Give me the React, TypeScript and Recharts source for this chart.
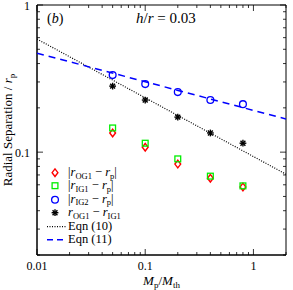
import { ScatterChart, Scatter, XAxis, YAxis, ReferenceArea, Legend, Label } from 'recharts';

// planet-to-planet mass ratio (Mp/Mth) sampled in the runs
const massRatio = [0.05, 0.1, 0.2, 0.4, 0.8];

// radial separations in units of r_p
const og1Sep = [0.135, 0.108, 0.083, 0.0665, 0.058];
const ig1Sep = [0.146, 0.115, 0.09, 0.0687, 0.059];
const ig2Sep = [0.334, 0.29, 0.256, 0.226, 0.212];
const og1Ig1Sep = [0.281, 0.226, 0.173, 0.135, 0.115];

// analytic fits (straight lines in log-log)
const eqn10X = [0.01, 2];
const eqn10Y = [0.587, 0.0708];
const eqn11X = [0.01, 2];
const eqn11Y = [0.471, 0.168];

const xTicks = [0.01, 0.02, 0.03, 0.04, 0.05, 0.06, 0.07, 0.08, 0.09, 0.1, 0.2, 0.3, 0.4, 0.5, 0.6, 0.7, 0.8, 0.9, 1, 2];
const yTicks = [0.02, 0.03, 0.04, 0.05, 0.06, 0.07, 0.08, 0.09, 0.1, 0.2, 0.3, 0.4, 0.5, 0.6, 0.7, 0.8, 0.9, 1];
const xLabelled = [0.01, 0.1, 1];
const yLabelled = [0.1, 1];

const W = 293;
const H = 290;
const M = { top: 5, right: 7, bottom: 0, left: 0 };
const Y_AXIS_W = 37;
const X_AXIS_H = 35;
const PLOT_W = W - M.left - M.right - Y_AXIS_W;
const PLOT_H = H - M.top - M.bottom - X_AXIS_H;
const FONT = '"Liberation Serif", "DejaVu Serif", serif';

const zip = (xs: number[], ys: number[]) => xs.map((x, i) => ({ x, y: ys[i] }));

const isMajor = (v: number) => Math.abs(Math.log10(v) - Math.round(Math.log10(v))) < 1e-6;

const XTick = (props: any) => {
  const { x, y, payload } = props;
  const v = payload.value;
  const len = isMajor(v) ? 6 : 3;
  return (
    <g>
      <line x1={x} y1={y} x2={x} y2={y - len} stroke="#000" strokeWidth={0.8} />
      <line x1={x} y1={y - PLOT_H} x2={x} y2={y - PLOT_H + len} stroke="#000" strokeWidth={0.8} />
      {xLabelled.includes(v) && (
        <text x={x} y={y + 15} textAnchor="middle" fontSize={12} fontFamily={FONT} fill="#000">
          {v}
        </text>
      )}
    </g>
  );
};

const YTick = (props: any) => {
  const { x, y, payload } = props;
  const v = payload.value;
  const len = isMajor(v) ? 6 : 3;
  return (
    <g>
      <line x1={x} y1={y} x2={x + len} y2={y} stroke="#000" strokeWidth={0.8} />
      <line x1={x + PLOT_W} y1={y} x2={x + PLOT_W - len} y2={y} stroke="#000" strokeWidth={0.8} />
      {yLabelled.includes(v) && (
        <text x={x - 7} y={y + 4.5} textAnchor="end" fontSize={12} fontFamily={FONT} fill="#000">
          {v}
        </text>
      )}
    </g>
  );
};

const Diamond = ({ cx, cy }: any) => (
  <path d={`M${cx},${cy - 3.8} L${cx + 2.9},${cy} L${cx},${cy + 3.8} L${cx - 2.9},${cy} Z`} fill="none" stroke="#ff0000" strokeWidth={1.4} />
);
const Square = ({ cx, cy }: any) => (
  <rect x={cx - 2.9} y={cy - 2.9} width={5.8} height={5.8} fill="none" stroke="#00ee00" strokeWidth={1.3} />
);
const Circle = ({ cx, cy }: any) => <circle cx={cx} cy={cy} r={3.4} fill="none" stroke="#0000ff" strokeWidth={1.3} />;
const Star = ({ cx, cy }: any) => {
  const r = 3.4;
  const d = r * 0.72;
  return (
    <g stroke="#000" strokeWidth={1.4}>
      <line x1={cx - r} y1={cy} x2={cx + r} y2={cy} />
      <line x1={cx} y1={cy - r} x2={cx} y2={cy + r} />
      <line x1={cx - d} y1={cy - d} x2={cx + d} y2={cy + d} />
      <line x1={cx - d} y1={cy + d} x2={cx + d} y2={cy - d} />
    </g>
  );
};
const NoDot = () => <g />;

const sub = (s: string) => (
  <span style={{ fontSize: 8.5, fontStyle: 'normal', position: 'relative', top: 2.5, lineHeight: 1 }}>{s}</span>
);
const r = <i>r</i>;

const ROW_H = 13.4;
const ICON_CY = ROW_H / 2;

const legendRows = [
  { key: 'og1', label: <>|{r}{sub('OG1')} − {r}{sub('p')}|</>, icon: <Diamond cx={15} cy={ICON_CY} /> },
  { key: 'ig1', label: <>|{r}{sub('IG1')} − {r}{sub('p')}|</>, icon: <Square cx={15} cy={ICON_CY} /> },
  { key: 'ig2', label: <>|{r}{sub('IG2')} − {r}{sub('p')}|</>, icon: <Circle cx={15} cy={ICON_CY} /> },
  { key: 'diff', label: <>{r}{sub('OG1')} − {r}{sub('IG1')}</>, icon: <Star cx={15} cy={ICON_CY} /> },
  {
    key: 'eq10',
    label: <>Eqn (10)</>,
    icon: <line x1={7} y1={ICON_CY} x2={26} y2={ICON_CY} stroke="#000" strokeWidth={1.2} strokeDasharray="1 1.5" />,
  },
  {
    key: 'eq11',
    label: <>Eqn (11)</>,
    icon: <line x1={7} y1={ICON_CY} x2={24} y2={ICON_CY} stroke="#0000ff" strokeWidth={1.4} strokeDasharray="6 4" />,
  },
];

const LegendBox = () => (
  <div style={{ fontFamily: FONT, fontSize: 12.5, color: '#000', lineHeight: `${ROW_H}px` }}>
    {legendRows.map((row) => (
      <div key={row.key} style={{ display: 'flex', alignItems: 'center', height: ROW_H }}>
        <svg width={28} height={ROW_H} style={{ flex: 'none' }}>
          {row.icon}
        </svg>
        <span style={{ whiteSpace: 'nowrap' }}>{row.label}</span>
      </div>
    ))}
  </div>
);

const YTitle = (props: any) => {
  const { viewBox } = props;
  const cx = viewBox.x + 12;
  const cy = viewBox.y + viewBox.height / 2;
  return (
    <text transform={`translate(${cx},${cy}) rotate(-90)`} textAnchor="middle" fontSize={13} fontFamily={FONT} fill="#000">
      Radial Separation / <tspan fontStyle="italic">r</tspan>
      <tspan fontSize={9} dy={3}>p</tspan>
    </text>
  );
};

const XTitle = (props: any) => {
  const { viewBox } = props;
  const cx = viewBox.x + viewBox.width / 2;
  const cy = viewBox.y + 30;
  return (
    <text x={cx} y={cy} textAnchor="middle" fontSize={13} fontFamily={FONT} fill="#000">
      <tspan fontStyle="italic">M</tspan>
      <tspan fontSize={9} dy={3}>p</tspan>
      <tspan dy={-3}>/</tspan>
      <tspan fontStyle="italic">M</tspan>
      <tspan fontSize={9} dy={3}>th</tspan>
    </text>
  );
};

export default function App() {
  return (
    <div style={{ position: 'absolute', left: 0, top: 0, width: W, height: H, background: '#fff' }}>
      <ScatterChart width={W} height={H} margin={M}>
        <XAxis
          type="number"
          dataKey="x"
          scale="log"
          domain={[0.01, 2]}
          allowDataOverflow
          ticks={xTicks}
          interval={0}
          tick={<XTick />}
          tickLine={false}
          tickSize={0}
          tickMargin={0}
          height={X_AXIS_H}
          axisLine={{ stroke: '#000' }}
        >
          <Label content={<XTitle />} />
        </XAxis>
        <YAxis
          type="number"
          dataKey="y"
          scale="log"
          domain={[0.02, 1]}
          allowDataOverflow
          ticks={yTicks}
          interval={0}
          tick={<YTick />}
          tickLine={false}
          tickSize={0}
          tickMargin={0}
          width={Y_AXIS_W}
          axisLine={{ stroke: '#000' }}
        >
          <Label content={<YTitle />} />
        </YAxis>
        <ReferenceArea x1={0.01} x2={2} y1={0.02} y2={1} fill="none" stroke="#000" strokeWidth={1} ifOverflow="visible" />
        <Scatter
          name="Eqn (10)"
          data={zip(eqn10X, eqn10Y)}
          shape={<NoDot />}
          line={{ stroke: '#000', strokeWidth: 1.2, strokeDasharray: '1 1.5' }}
          isAnimationActive={false}
        />
        <Scatter
          name="Eqn (11)"
          data={zip(eqn11X, eqn11Y)}
          shape={<NoDot />}
          line={{ stroke: '#0000ff', strokeWidth: 1.5, strokeDasharray: '7 5' }}
          isAnimationActive={false}
        />
        <Scatter name="og1" data={zip(massRatio, og1Sep)} shape={<Diamond />} isAnimationActive={false} />
        <Scatter name="ig1" data={zip(massRatio, ig1Sep)} shape={<Square />} isAnimationActive={false} />
        <Scatter name="ig2" data={zip(massRatio, ig2Sep)} shape={<Circle />} isAnimationActive={false} />
        <Scatter name="diff" data={zip(massRatio, og1Ig1Sep)} shape={<Star />} isAnimationActive={false} />
        <Legend
          layout="vertical"
          align="center"
          verticalAlign="middle"
          content={<LegendBox />}
          wrapperStyle={{ left: 40, top: 166, width: 'auto' }}
        />
      </ScatterChart>
      <div style={{ position: 'absolute', left: 47, top: 11, fontFamily: FONT, fontSize: 14, fontStyle: 'italic' }}>
        <span style={{ fontStyle: 'normal' }}>(</span>b<span style={{ fontStyle: 'normal' }}>)</span>
      </div>
      <div style={{ position: 'absolute', left: 136, top: 10, fontFamily: FONT, fontSize: 15, whiteSpace: 'nowrap' }}>
        <i>h</i>/<i>r</i> = 0.03
      </div>
    </div>
  );
}
